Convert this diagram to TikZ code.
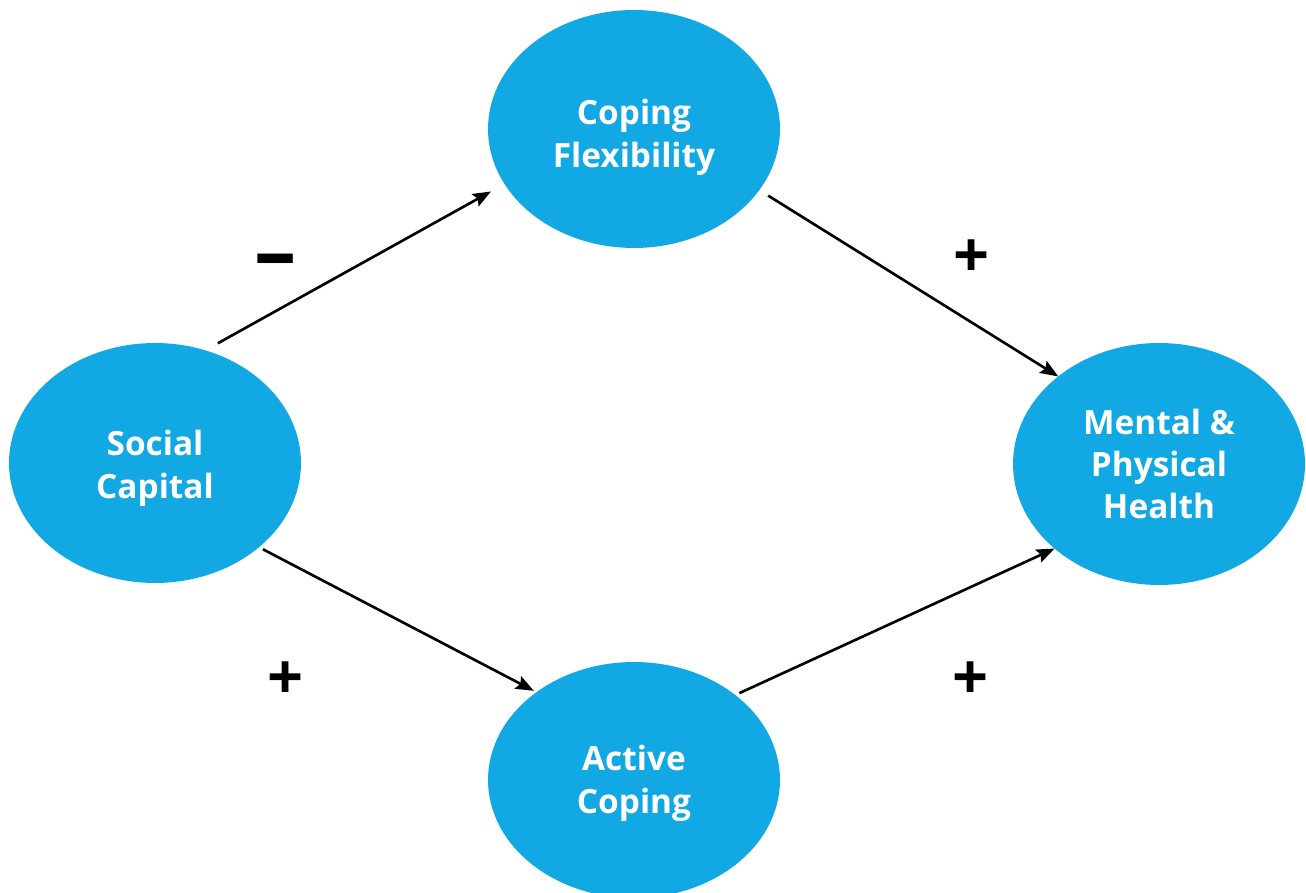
\documentclass[tikz,border=0pt]{standalone}
\usepackage{fontspec}
\setmainfont{Open Sans}
\usetikzlibrary{shapes.geometric,arrows.meta}
\definecolor{bubblefill}{RGB}{18,168,228}
\newcommand{\lowerby}[1]{\rule{0pt}{\dimexpr0.52cm+#1\relax}}
\begin{document}
\begin{tikzpicture}[x=0.02cm,y=0.02cm]
\tikzstyle{bubble}=[ellipse,fill=bubblefill,inner sep=0pt,outer sep=0pt,minimum width=5.84cm,minimum height=4.8cm,text=white,align=center,font=\fontsize{19}{24}\selectfont\bfseries]
\tikzstyle{link}=[black,line width=1.5pt,-{Stealth[length=0.36cm,width=0.28cm,inset=0.06cm]}]
\tikzstyle{sign}=[inner sep=0pt,font=\fontsize{36}{36}\selectfont\bfseries]
\useasboundingbox (0,0) rectangle (1306,893);
\draw (155,430) node[bubble] (sc) {\lowerby{0.2cm}Social\\Capital};
\draw (634,764) node[bubble,minimum height=4.76cm] (cf) {\lowerby{0.32cm}Coping\\Flexibility};
\draw (1159,429) node[bubble,minimum height=4.84cm] (mh) {Mental \&\\Physical\\Health};
\draw (634,113) node[bubble,minimum height=4.72cm] (ac) {\lowerby{0.12cm}Active\\Coping};
\draw [link,shorten <=0.29cm,shorten >=0.31cm] (sc.66.85) -- (cf.203.8);
\draw [link,shorten <=0.21cm] (cf.-26.7) -- (mh.139.7);
\draw [link,shorten <=0.09cm,shorten >=0.06cm] (sc.-39.5) -- (ac.138.9);
\draw [link,shorten <=0.09cm] (ac.40.8) -- (mh.219.4);
\draw (276,625) node[sign,font=\fontsize{48}{48}\selectfont\bfseries] (neg) {–};
\draw (972,634) node[sign] (pos1) {+};
\draw (286,212) node[sign] (pos2) {+};
\draw (971,212) node[sign] (pos3) {+};
\end{tikzpicture}
\end{document}
